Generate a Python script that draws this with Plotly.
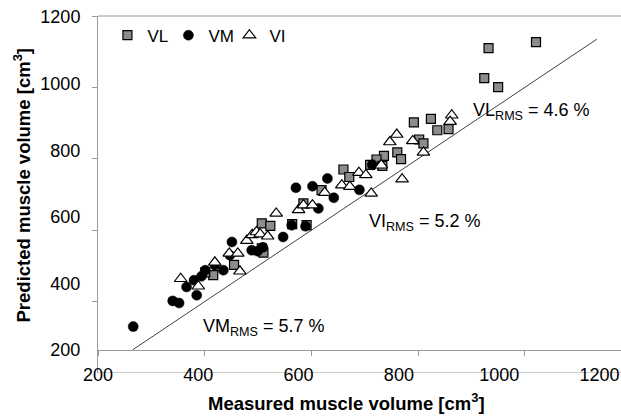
import plotly.graph_objects as go

# Measured vs predicted muscle volume [cm^3] for the three vasti
vl_measured = [1021, 932, 924, 950, 792, 824, 836, 857, 802, 810, 761, 768, 736, 722, 733,
               710, 660, 671, 619, 585, 591, 564, 507, 523, 507, 510, 455, 416, 401]
vl_predicted = [1127, 1110, 1026, 1001, 902, 912, 880, 883, 854, 843, 818, 799, 808, 798, 780,
                783, 770, 749, 712, 675, 614, 617, 619, 612, 549, 537, 503, 474, 482]

vm_measured = [266, 340, 352, 366, 380, 385, 394, 401, 435, 451, 447, 488, 499, 547, 563,
               589, 571, 602, 630, 642, 613, 690, 714, 509, 419]
vm_predicted = [330, 402, 396, 441, 460, 418, 471, 488, 488, 567, 530, 544, 541, 581, 614,
                611, 719, 723, 745, 691, 661, 713, 783, 552, 502]

vi_measured = [355, 388, 419, 466, 446, 462, 479, 489, 497, 504, 518, 534, 576, 585, 602,
               625, 657, 672, 689, 702, 712, 731, 747, 760, 790, 810, 770, 863, 860]
vi_predicted = [464, 443, 510, 485, 535, 535, 571, 587, 595, 589, 583, 647, 657, 670, 670,
                705, 726, 722, 761, 755, 703, 782, 847, 868, 850, 818, 743, 922, 904]

# line of identity
identity = [265, 1135]

tick_values = [200, 400, 600, 800, 1000, 1200]
tick_text = ["200", "400", "600", "800", "1000", "1200"]

rms_labels = ["VL<sub>RMS</sub> = 4.6 %", "VI<sub>RMS</sub> = 5.2 %", "VM<sub>RMS</sub> = 5.7 %"]
rms_x = [900, 704, 393]
rms_y = [933, 621, 327]

AX = "#9a9a9a"
FONT = "Liberation Sans, Arial, sans-serif"

fig = go.Figure()
fig.add_trace(go.Scatter(x=identity, y=identity, mode="lines",
                         line=dict(color="#404040", width=1), showlegend=False,
                         hoverinfo="skip"))
fig.add_trace(go.Scatter(x=vl_measured, y=vl_predicted, mode="markers", name="VL",
                         marker=dict(symbol="square", size=9, color="#8c8c8c",
                                     line=dict(color="black", width=1.2))))
fig.add_trace(go.Scatter(x=vm_measured, y=vm_predicted, mode="markers", name="VM",
                         marker=dict(symbol="circle", size=10, color="black",
                                     line=dict(color="black", width=0.5))))
fig.add_trace(go.Scatter(x=vi_measured, y=vi_predicted, mode="markers", name="VI",
                         marker=dict(symbol="triangle-up", size=11, color="white",
                                     line=dict(color="black", width=1.2))))
# empty trace that carries the tick-label axes (x2/y2)
fig.add_trace(go.Scatter(x=[], y=[], xaxis="x2", yaxis="y2", mode="none",
                         showlegend=False, hoverinfo="skip"))

for txt, xv, yv in zip(rms_labels, rms_x, rms_y):
    fig.add_annotation(text=txt, x=xv, y=yv, xref="x", yref="y", xanchor="left",
                       yanchor="middle", showarrow=False,
                       font=dict(family=FONT, size=18, color="black"))

fig.add_annotation(text="<b>Measured muscle volume [cm<sup>3</sup>]</b>", xref="paper",
                   yref="paper", x=(346.7 - 98) / 523, y=-(402 - 373) / 357,
                   xanchor="center", yanchor="middle", showarrow=False,
                   font=dict(family=FONT, size=18.5, color="black"))
fig.add_annotation(text="<b>Predicted muscle volume [cm<sup>3</sup>]</b>", xref="paper",
                   yref="paper", x=-(98 - 22.5) / 523, y=(373 - 185) / 357,
                   xanchor="center", yanchor="middle", textangle=-90, showarrow=False,
                   font=dict(family=FONT, size=18.5, color="black"))

fig.update_layout(
    width=621, height=416,
    margin=dict(l=98, r=0, t=16, b=43, pad=0),
    paper_bgcolor="white", plot_bgcolor="white",
    font=dict(family=FONT, size=18, color="black"),
    legend=dict(orientation="h", x=0.018, y=0.945, xanchor="left", yanchor="middle",
                font=dict(family=FONT, size=17), bgcolor="rgba(0,0,0,0)",
                itemwidth=30, entrywidth=16, entrywidthmode="pixels",
                traceorder="normal"),
    xaxis=dict(range=[200, 1180.3], anchor="free", position=0.0644, showline=True,
               linecolor=AX, linewidth=1, ticks="outside", ticklen=5, tickcolor=AX,
               tickvals=tick_values, showticklabels=False, showgrid=False, zeroline=False),
    yaxis=dict(range=[200, 1200], showline=True, linecolor=AX, linewidth=1,
               ticks="outside", ticklen=5, tickcolor=AX, tickvals=tick_values[1:],
               showticklabels=False, showgrid=False, zeroline=False),
    xaxis2=dict(overlaying="x", anchor="free", position=0.030, range=[200, 1242.9],
                tickvals=tick_values, ticktext=tick_text, ticks="", showline=False,
                showgrid=False, zeroline=False, tickfont=dict(family=FONT, size=18)),
    yaxis2=dict(overlaying="y", anchor="free", position=0, range=[131, 1203],
                tickvals=tick_values, ticktext=tick_text, ticks="outside", ticklen=14,
                tickcolor="rgba(0,0,0,0)", showline=False, showgrid=False, zeroline=False,
                tickfont=dict(family=FONT, size=18)),
    shapes=[
        dict(type="line", xref="paper", yref="y", x0=0, x1=1, y0=200, y1=200,
             line=dict(color=AX, width=1), layer="below"),
        dict(type="line", xref="paper", yref="paper", x0=0, x1=1, y0=1, y1=1,
             line=dict(color=AX, width=1), layer="below"),
    ],
)

fig.write_html("out.html")
